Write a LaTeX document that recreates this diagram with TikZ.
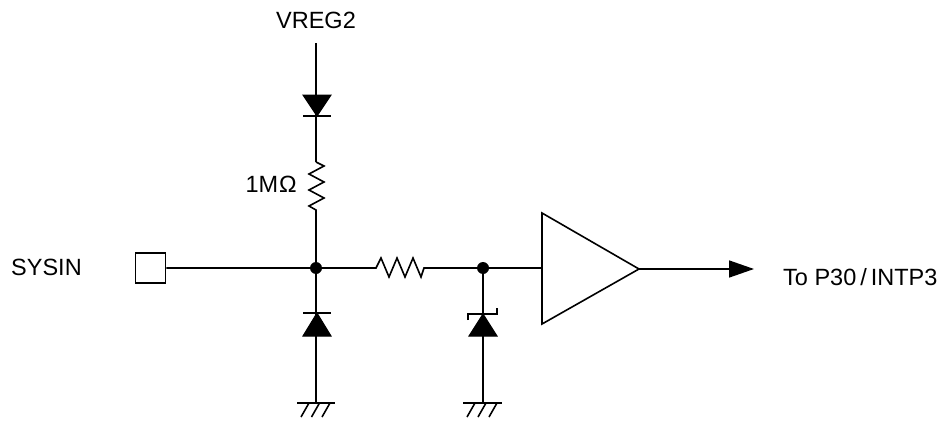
\documentclass[tikz,border=0pt]{standalone}
\usepackage{fontspec}
\setmainfont{Liberation Sans}
\usetikzlibrary{arrows.meta}
\begin{document}
\begin{tikzpicture}[x=1pt,y=-1pt,
  wire/.style={line width=1.6pt, line join=miter},
  lbl/.style={font=\fontsize{23.5}{27}\selectfont, inner sep=0pt},
  dot/.style={circle, fill=black, inner sep=0pt, minimum size=12pt},
  diodefill/.style={fill=black, draw=black, line width=1pt},
  gnd/.style={line width=1.6pt}]
\useasboundingbox (0,0) rectangle (946,423);

% labels
\node[lbl, anchor=base] (vreg) at (316,28) {VREG2};
\node[lbl, anchor=base east] (rlbl) at (297,192) {1M\kern1pt Ω};
\node[lbl, anchor=west] (sysin) at (11,267.5) {SYSIN};
\node[lbl, anchor=base west] (out) at (783,285) {To P30\kern4pt/\kern4pt INTP3};

% key coordinates
\coordinate (vtop) at (316,43);
\coordinate (ja) at (316,268);
\coordinate (jb) at (483,268);
\coordinate (ga) at (316,403);
\coordinate (gb) at (483,403);
\coordinate (bin) at (542,268);
\coordinate (bout) at (639,269);
\coordinate (tip) at (754,269);

% terminal square
\node[draw, line width=1.6pt, minimum size=30pt, inner sep=0pt] (term) at (150.5,268) {};

% wires
\draw[wire] (vtop) -- (316,162);
\draw[wire] (316,162) -- (324,166) -- (309,174) -- (324,182) -- (309,190) -- (324,198) -- (309,206) -- (316,210) -- (ja);
\draw[wire] (term.east) -- (ja) -- (376,268) -- (381,258) -- (389,277) -- (397,258) -- (405,277) -- (413,258) -- (421,277) -- (424,268) -- (jb) -- (bin);
\draw[wire] (ja) -- (ga);
\draw[wire] (jb) -- (gb);

% top diode (pointing down)
\fill[diodefill] (303,95) -- (331,95) -- (317,116) -- cycle;
\draw[wire] (303,116) -- (331,116);

% lower-left diode (pointing up)
\fill[diodefill] (317,313) -- (303,336) -- (331,336) -- cycle;
\draw[wire] (303,313) -- (331,313);

% zener diode
\fill[diodefill] (483,314) -- (469,336) -- (497,336) -- cycle;
\draw[wire] (468,320) -- (468,314) -- (497,314) -- (497,308);

% junction dots
\node[dot] (da) at (ja) {};
\node[dot] (db) at (jb) {};

% grounds
\draw[gnd] (297,403) -- (335,403);
\foreach \x in {309,319.5,330} \draw[gnd] (\x,403) -- (\x-8,417);
\draw[gnd] (463,403) -- (502,403);
\foreach \x in {475,486,497} \draw[gnd] (\x,403) -- (\x-8,417);

% buffer
\draw[wire, line join=miter] (542,213) -- (542,324) -- (bout) -- cycle;
\draw[wire, -{Triangle[length=25pt,width=17pt]}] (bout) -- (tip);
\end{tikzpicture}
\end{document}
